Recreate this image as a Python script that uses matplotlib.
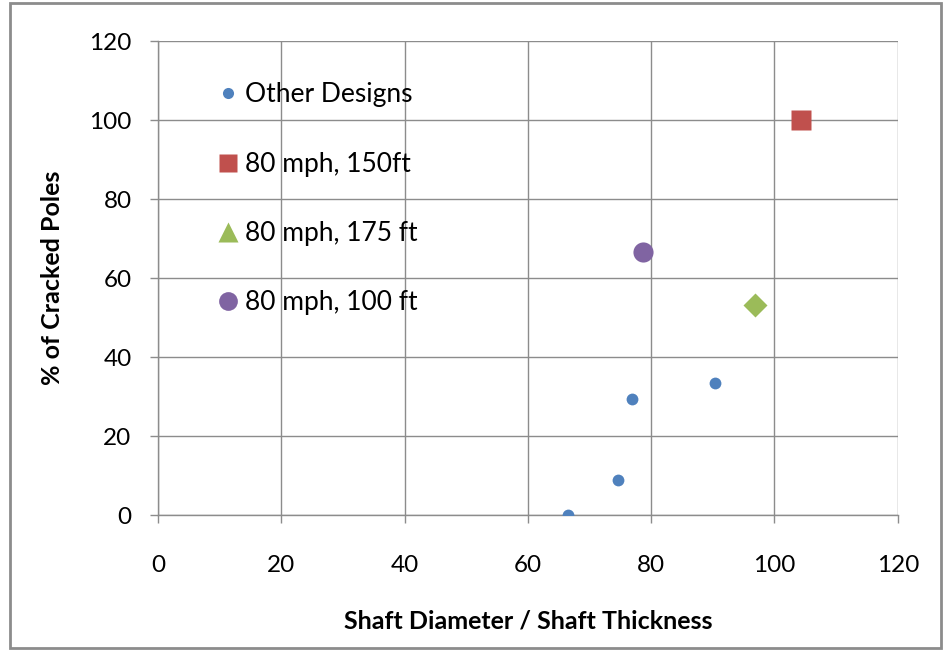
import matplotlib
matplotlib.use("Agg")
import matplotlib.pyplot as plt
from matplotlib.lines import Line2D
from matplotlib.patches import Rectangle

plt.rcParams['font.family'] = ['Lato', 'DejaVu Sans']

# Data
other_x = [66.5, 74.7, 76.9, 90.3]
other_y = [0, 8.8, 29.3, 33.4]
red_x, red_y = [104.3], [100.0]
green_x, green_y = [96.8], [53.2]
purple_x, purple_y = [78.6], [66.7]

labels = ["Other Designs", "80 mph, 150ft", "80 mph, 175 ft", "80 mph, 100 ft"]
colors = ["#4F81BD", "#C0504D", "#9BBB59", "#8064A2"]
ticks = [0, 20, 40, 60, 80, 100, 120]

fig = plt.figure(figsize=(9.46, 6.52), dpi=100)
ax = fig.add_axes([0.167, 0.210, 0.782, 0.727])

# outer chart border
fig.patches.append(Rectangle((0.011, 0.006), 0.984, 0.989, transform=fig.transFigure,
                             fill=False, edgecolor="#8c8c8c", linewidth=2))

ax.plot(other_x, other_y, "o", color=colors[0], ms=8.5, mec="none", zorder=3)
ax.plot(red_x, red_y, "s", color=colors[1], ms=14, mec="none", zorder=3)
ax.plot(green_x, green_y, "D", color=colors[2], ms=12, mec="none", zorder=3)
ax.plot(purple_x, purple_y, "o", color=colors[3], ms=14.5, mec="none", zorder=3)

ax.set_xlim(0, 120)
ax.set_ylim(0, 120)
ax.set_xticks(ticks)
ax.set_yticks(ticks)
ax.grid(True, color="#8c8c8c", linewidth=1)
ax.set_axisbelow(True)
for s in ["top", "right"]:
    ax.spines[s].set_visible(False)
for s in ["left", "bottom"]:
    ax.spines[s].set_color("#8c8c8c")
    ax.spines[s].set_linewidth(1)
ax.tick_params(colors="#8c8c8c", labelcolor="black", labelsize=17.5, length=6, width=1)
ax.tick_params(axis="x", pad=23)
ax.tick_params(axis="y", pad=13)

ax.set_xlabel("Shaft Diameter / Shaft Thickness", fontsize=18, fontweight="bold", labelpad=24)
ax.set_ylabel("% of Cracked Poles", fontsize=18, fontweight="bold", labelpad=18)

# legend (the green entry shows a triangle, as in the original)
handles = [
    Line2D([], [], ls="none", marker="o", color=colors[0], ms=8, mec="none"),
    Line2D([], [], ls="none", marker="s", color=colors[1], ms=13.5, mec="none"),
    Line2D([], [], ls="none", marker="^", color=colors[2], ms=14, mec="none"),
    Line2D([], [], ls="none", marker="o", color=colors[3], ms=13.5, mec="none"),
]
ax.legend(handles, labels, loc="upper left", bbox_to_anchor=(0.0665, 0.935), frameon=False,
          fontsize=19, labelspacing=1.68, handlelength=0.8, handletextpad=0.25,
          borderaxespad=0)

fig.savefig("out.png", dpi=100)
